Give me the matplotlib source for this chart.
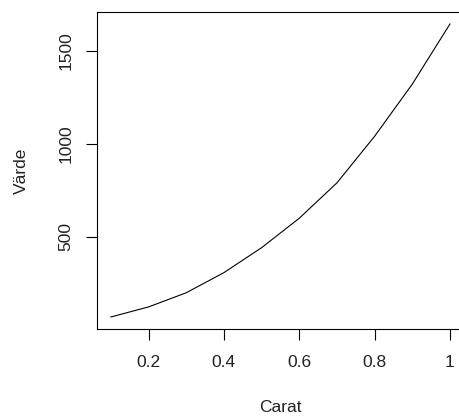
import matplotlib
matplotlib.use("Agg")
import matplotlib.pyplot as plt

# values
carat = [0.1, 0.2, 0.3, 0.4, 0.5, 0.6, 0.7, 0.8, 0.9, 1.0]
value = [70, 124, 200, 308, 442, 600, 790, 1040, 1320, 1643]

x_ticks = [0.2, 0.4, 0.6, 0.8, 1.0]
x_tick_labels = ["0.2", "0.4", "0.6", "0.8", "1"]
y_ticks = [500, 1000, 1500]

plt.rcParams["font.family"] = ["Liberation Sans", "DejaVu Sans"]

W, H = 459, 416
fig = plt.figure(figsize=(W / 100, H / 100), dpi=100)
left, right, top, bottom = 97.3, 463.5, 12.3, 328.7
ax = fig.add_axes([left / W, 1 - bottom / H, (right - left) / W, (bottom - top) / H])

ax.plot(carat, value, color="black", lw=0.8)

# R-style 4% padding around the data
xr = max(carat) - min(carat)
yr = max(value) - min(value)
ax.set_xlim(min(carat) - 0.04 * xr, max(carat) + 0.04 * xr)
ax.set_ylim(min(value) - 0.04 * yr, max(value) + 0.04 * yr)

ax.set_xticks(x_ticks, x_tick_labels)
ax.set_yticks(y_ticks, [str(v) for v in y_ticks])
for lab in ax.get_yticklabels():
    lab.set_rotation(90)
    lab.set_va("center")

ax.tick_params(axis="both", length=8, width=0.8, colors="black", labelsize=12.5,
               labelcolor="#222222")
ax.tick_params(axis="x", pad=11)
ax.tick_params(axis="y", pad=9)
for s in ax.spines.values():
    s.set_linewidth(0.8)
    s.set_color("black")

fig.text(280.4 / W, 1 - 407 / H, "Carat", ha="center", va="center",
         fontsize=12.5, color="#222222")
fig.text(21 / W, 1 - 170.5 / H, "Värde", ha="center", va="center",
         rotation=90, fontsize=12.5, color="#222222")

fig.savefig("out.png", dpi=100)
